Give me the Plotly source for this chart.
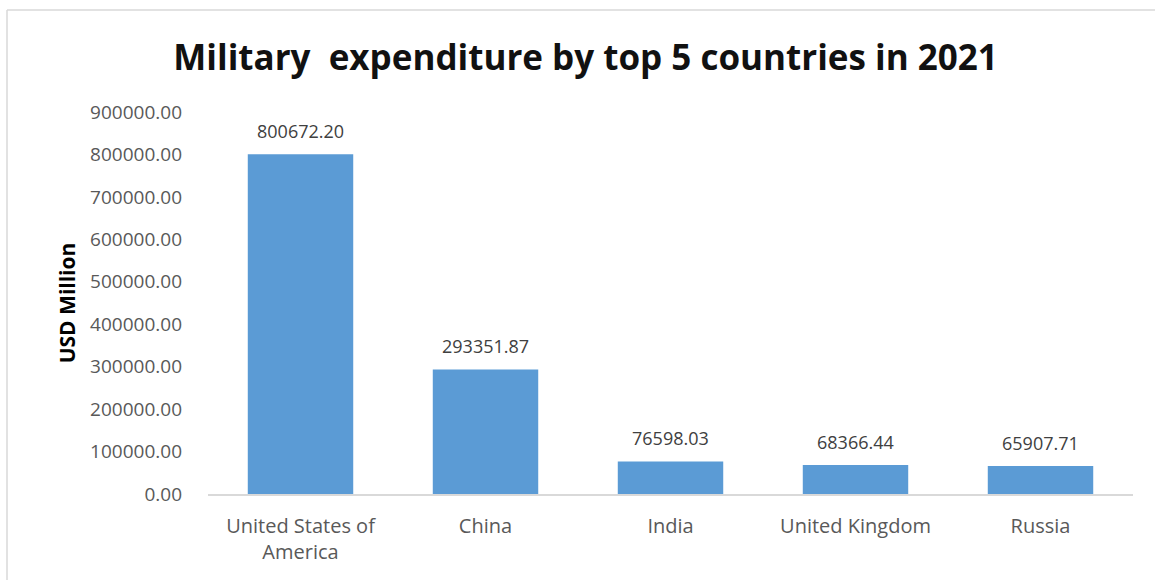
import plotly.graph_objects as go

countries = ["United States of<br>America", "China", "India", "United Kingdom", "Russia"]
expenditure = [800672.20, 293351.87, 76598.03, 68366.44, 65907.71]
y_ticks = [0, 100000, 200000, 300000, 400000, 500000, 600000, 700000, 800000, 900000]
y_tick_labels = [f"{v:.2f}" for v in y_ticks]

W, H = 1155, 580
L, R, T, B = 208, 22, 112, 86

fig = go.Figure(
    go.Bar(
        x=countries,
        y=expenditure,
        marker=dict(color="#5B9BD5", line=dict(width=0)),
        width=0.57,
        hoverinfo="x+y",
    )
)

# value labels above each bar
for c, v in zip(countries, expenditure):
    fig.add_annotation(
        x=c, y=v, text=f"{v:.2f}", showarrow=False,
        yanchor="bottom", yshift=9,
        font=dict(family="Open Sans", size=18, color="#404040"),
    )

# chart area frame (top and left edges)
def px_to_paper_x(px):
    return (px - L) / (W - L - R)

def px_to_paper_y(py):
    return (H - B - py) / (H - T - B)

fig.add_shape(type="line", xref="paper", yref="paper",
              x0=px_to_paper_x(7), x1=px_to_paper_x(1160),
              y0=px_to_paper_y(10), y1=px_to_paper_y(10),
              line=dict(color="#D9D9D9", width=1.5))
fig.add_shape(type="line", xref="paper", yref="paper",
              x0=px_to_paper_x(7), x1=px_to_paper_x(7),
              y0=px_to_paper_y(10), y1=px_to_paper_y(590),
              line=dict(color="#D9D9D9", width=1.5))

fig.update_layout(
    width=W, height=H,
    margin=dict(l=L, r=R, t=T, b=B),
    paper_bgcolor="white", plot_bgcolor="white",
    showlegend=False,
    bargap=0.43,
    title=dict(
        text="<b>Military  expenditure by top 5 countries in 2021</b>",
        x=0.507, xanchor="center", y=1 - 58 / H, yanchor="middle",
        font=dict(family="Open Sans", size=35, color="#111111"),
    ),
    xaxis=dict(
        showline=True, linecolor="#D9D9D9", linewidth=1.5,
        showgrid=False, ticks="", ticklabelstandoff=13,
        tickfont=dict(family="Open Sans", size=20, color="#595959"),
    ),
    yaxis=dict(
        range=[0, 900000], tickvals=y_ticks, ticktext=y_tick_labels,
        showgrid=False, showline=False, zeroline=False, ticks="",
        ticklabelstandoff=25,
        tickfont=dict(family="Open Sans", size=19, color="#595959"),
        title=dict(text="<b>USD Million</b>", standoff=8,
                   font=dict(family="Open Sans", size=21, color="black")),
    ),
)

fig.write_html("out.html")
